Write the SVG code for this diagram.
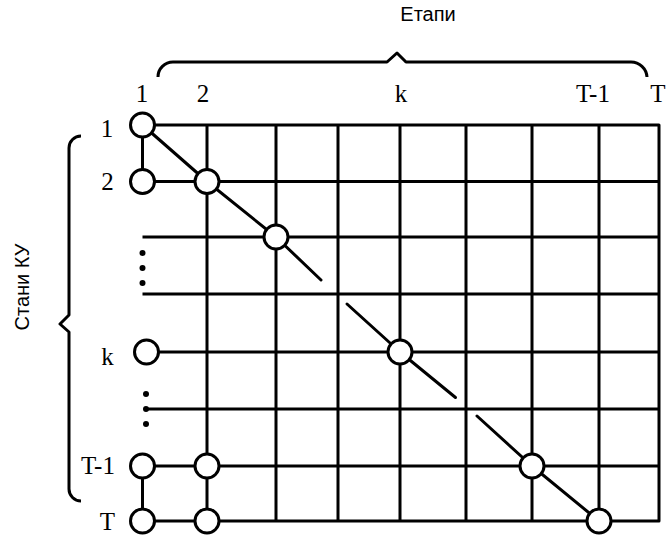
<svg xmlns="http://www.w3.org/2000/svg" width="668" height="540" viewBox="0 0 668 540">
<style>
.ln{fill:none;stroke:#000;stroke-width:3;stroke-linejoin:round}
.dg{fill:none;stroke:#000;stroke-width:3;stroke-linecap:round;stroke-linejoin:round}
.nd{fill:#fff;stroke:#000;stroke-width:3}
.dot{fill:#000}
.lb{font-family:"Liberation Serif","Times New Roman",serif;font-size:25px;fill:#000;text-anchor:middle}
.ax{font-family:"Liberation Sans",Arial,sans-serif;font-size:20px;fill:#000;text-anchor:middle}
</style>
<rect width="668" height="540" fill="#fff"/>
<g id="braces" class="ln">
<path d="M158,77 A15,15 0 0 1 173,62 H387 L397,53 L406,62 H631 A16,16 0 0 1 647,77"/>
<path d="M81,136 A12,12 0 0 0 69,148 V315 L60,324 L69,332 V489 A12,12 0 0 0 81,501"/>
</g>
<g id="connectors">
<path class="ln" d="M142.5,125 H659 V521 H142.5"/>
<path class="ln" d="M142.5,181.5 H659 M142.5,237 H659 M142.5,294 H659 M146,352 H659 M146,409 H659 M142.5,466 H659"/>
<path class="ln" d="M142.5,125 V181.5 M142.5,466 V521 M207,125 V521 M276,125 V521 M338,125 V521 M400,125 V521 M466,125 V521 M532,125 V521 M599,125 V521"/>
<polyline class="dg" points="142.5,125 207,181.5 276,237 321,280"/>
<polyline class="dg" points="347,304 400,352 455.5,397.5"/>
<polyline class="dg" points="477,416 532,466 599,521"/>
</g>
<g id="dots">
<circle class="dot" cx="142.5" cy="253" r="3"/>
<circle class="dot" cx="142.5" cy="268" r="3"/>
<circle class="dot" cx="142.5" cy="283" r="3"/>
<circle class="dot" cx="146" cy="394" r="3"/>
<circle class="dot" cx="146" cy="409" r="3"/>
<circle class="dot" cx="146" cy="424" r="3"/>
</g>
<g id="n-1-1"><circle class="nd" cx="142.5" cy="125" r="12"/></g>
<g id="n-2-1"><circle class="nd" cx="142.5" cy="181.5" r="12"/></g>
<g id="n-2-2"><circle class="nd" cx="207" cy="181.5" r="12"/></g>
<g id="n-3-3"><circle class="nd" cx="276" cy="237" r="12"/></g>
<g id="n-k-1"><circle class="nd" cx="146.5" cy="352" r="12"/></g>
<g id="n-k-k"><circle class="nd" cx="400" cy="352" r="12"/></g>
<g id="n-T1-1"><circle class="nd" cx="142.5" cy="466" r="12"/></g>
<g id="n-T1-2"><circle class="nd" cx="207" cy="466" r="12"/></g>
<g id="n-T1-T1"><circle class="nd" cx="532" cy="466" r="12"/></g>
<g id="n-T-1"><circle class="nd" cx="142.5" cy="521" r="12"/></g>
<g id="n-T-2"><circle class="nd" cx="207" cy="521" r="12"/></g>
<g id="n-T-T"><circle class="nd" cx="599" cy="521" r="12"/></g>
<g id="labels">
<text class="ax" x="428" y="21">Етапи</text>
<text class="ax" transform="translate(29,287) rotate(-90)">Стани КУ</text>
<text class="lb" x="142" y="102">1</text>
<text class="lb" x="203" y="102">2</text>
<text class="lb" x="401" y="102">k</text>
<text class="lb" x="593" y="102">T-1</text>
<text class="lb" x="658" y="102">T</text>
<text class="lb" x="107" y="137">1</text>
<text class="lb" x="107.5" y="190">2</text>
<text class="lb" x="107.5" y="365">k</text>
<text class="lb" x="98" y="474">T-1</text>
<text class="lb" x="107.5" y="530">T</text>
</g>
</svg>
